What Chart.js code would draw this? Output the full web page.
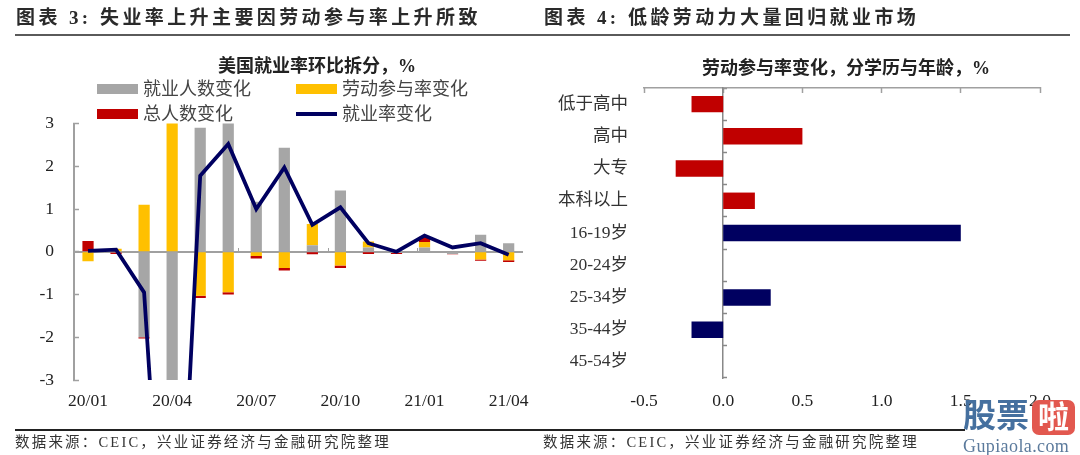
<!DOCTYPE html>
<html>
<head>
<meta charset="utf-8">
<script src="https://cdn.jsdelivr.net/npm/chart.js@4"></script>
<style>
  html, body { margin: 0; padding: 0; background: #fff; }
  body { width: 1080px; height: 455px; position: relative; overflow: hidden; font-family: "Liberation Serif", "Noto Sans CJK SC", serif; color: #222; }
  canvas { position: absolute; top: 0; }
  .abs { position: absolute; white-space: nowrap; line-height: 1; }
  .head { top: 8px; font-size: 19px; font-weight: bold; letter-spacing: 3.4px; color: #2a2a2a; }
  .sub { font-size: 18px; font-weight: bold; color: #222; }
  .foot { top: 435px; font-size: 14.5px; letter-spacing: 2.2px; color: #333; }
  .leg { font-size: 18px; color: #444; }
</style>
</head>
<body>
<canvas id="left" width="540" height="455" style="left:0"></canvas>
<canvas id="right" width="540" height="455" style="left:540px"></canvas>

<div class="abs head" style="left:16px">图表 3:</div>
<div class="abs head" style="left:100px">失业率上升主要因劳动参与率上升所致</div>
<div class="abs head" style="left:544px">图表 4:</div>
<div class="abs head" style="left:628px">低龄劳动力大量回归就业市场</div>
<div class="abs" style="left:15px;width:1055px;top:34px;height:2px;background:#5a5a5a"></div>
<div class="abs sub" style="left:218px;top:57px">美国就业率环比拆分&#xFF0C;%</div>
<div class="abs sub" style="left:702px;top:59px">劳动参与率变化&#xFF0C;分学历与年龄&#xFF0C;%</div>
<div id="legend"></div>
<div class="abs" style="left:15px;width:950px;top:429px;height:1.5px;background:#222"></div>
<div class="abs foot" style="left:15px">数据来源&#xFF1A;CEIC&#xFF0C;兴业证券经济与金融研究院整理</div>
<div class="abs foot" style="left:543px">数据来源&#xFF1A;CEIC&#xFF0C;兴业证券经济与金融研究院整理</div>

<!-- site watermark, sits over the last axis labels -->
<div class="abs" style="left:963px;top:400px;font-size:33px;font-weight:bold;color:#45709f">股票</div>
<div class="abs" style="left:1032px;top:400px;width:43px;height:35px;border-radius:7px;background:#e2584f;color:#fff;font-size:31px;font-weight:bold;text-align:center;line-height:35px">啦</div>
<div class="abs" style="left:963px;top:437px;font-size:18px;letter-spacing:0.4px;color:#5b7a9c">Gupiaola.com</div>

<script>
var months = ['20/01','20/02','20/03','20/04','20/05','20/06','20/07','20/08','20/09','20/10','20/11','20/12','21/01','21/02','21/03','21/04'];
var employed = [0, -0.02, -2.0, -14.0, 2.9, 3.52, 1.17, 2.43, 0.15, 1.43, 0.1, -0.03, 0.1, -0.05, 0.4, 0.2];
var participation = [-0.22, 0.07, 1.1, 3.2, -1.03, -0.95, -0.1, -0.38, 0.5, -0.32, 0.14, 0, 0.13, 0, -0.18, -0.2];
var population = [0.25, -0.03, -0.03, 0, -0.05, -0.05, -0.06, -0.06, -0.06, -0.06, -0.05, -0.02, 0.12, -0.01, -0.03, -0.04];
var rateChange = [0.02, 0.05, -0.95, -11.0, 1.78, 2.52, 1.0, 1.97, 0.63, 1.04, 0.2, 0, 0.38, 0.1, 0.2, -0.07];

var groups = ['低于高中','高中','大专','本科以上','16-19岁','20-24岁','25-34岁','35-44岁','45-54岁'];
var groupChange = [-0.2, 0.5, -0.3, 0.2, 1.5, 0, 0.3, -0.2, 0];

var GREY = '#a6a6a6', YELLOW = '#ffc000', RED = '#c00000', NAVY = '#000060';
var AXIS = '#a0a0a0';
var FONT = '"Liberation Serif", "Noto Sans CJK SC", serif';
var tickFont = { family: FONT, size: 17.5 };

Chart.defaults.animation = false;
Chart.defaults.responsive = false;
Chart.defaults.plugins.legend.display = false;
Chart.defaults.plugins.tooltip.enabled = false;

function fixW(w) { return function (s) { s.width = w; }; }
function fixH(h) { return function (s) { s.height = h; }; }

var leftChart = new Chart(document.getElementById('left').getContext('2d'), {
  data: {
    labels: months,
    datasets: [
      { type: 'bar', label: '就业人数变化', data: employed, backgroundColor: GREY, barPercentage: 0.4, categoryPercentage: 1, order: 1 },
      { type: 'bar', label: '劳动参与率变化', data: participation, backgroundColor: YELLOW, barPercentage: 0.4, categoryPercentage: 1, order: 1 },
      { type: 'bar', label: '总人数变化', data: population, backgroundColor: RED, barPercentage: 0.4, categoryPercentage: 1, order: 1 },
      { type: 'line', label: '就业率变化', data: rateChange, borderColor: NAVY, borderWidth: 3.8, pointRadius: 0, tension: 0, order: 0 }
    ]
  },
  options: {
    layout: { padding: { top: 123.5, right: 13, left: 0, bottom: 0 } },
    scales: {
      x: {
        stacked: true,
        grid: { display: false, drawTicks: false },
        border: { display: false },
        afterFit: fixH(75),
        ticks: {
          font: tickFont, color: '#222', padding: 11, autoSkip: false, maxRotation: 0,
          callback: function (v, i) { return i % 3 === 0 ? months[i] : ''; }
        }
      },
      // axis line through zero, month labels stay at the bottom
      x0: {
        type: 'category',
        position: { y: 0 },
        grid: {
          offset: true, drawOnChartArea: false, tickLength: -5, tickWidth: 1,
          tickColor: function (c) { return c.index % 3 === 0 ? AXIS : 'rgba(0,0,0,0)'; }
        },
        border: { color: AXIS, width: 2 },
        ticks: { display: false, autoSkip: false },
        afterFit: fixH(0)
      },
      y: {
        stacked: true,
        min: -3, max: 3,
        afterFit: fixW(74),
        grid: { drawOnChartArea: false, tickLength: -5, tickColor: AXIS, tickWidth: 1.5 },
        border: { color: AXIS, width: 2 },
        ticks: { stepSize: 1, font: tickFont, color: '#222', padding: 25 }
      }
    }
  }
});

new Chart(document.getElementById('right').getContext('2d'), {
  type: 'bar',
  data: {
    labels: groups,
    datasets: [{
      label: '劳动参与率变化',
      data: groupChange,
      backgroundColor: groupChange.map(function (v, i) { return i < 4 ? RED : NAVY; }),
      barPercentage: 0.51,
      categoryPercentage: 1
    }]
  },
  options: {
    indexAxis: 'y',
    layout: { padding: { top: 88, right: 40, left: 0, bottom: 0 } },
    scales: {
      x: {
        min: -0.5, max: 2,
        grid: { display: false, drawTicks: false },
        border: { display: false },
        afterFit: fixH(77),
        ticks: {
          stepSize: 0.5, font: tickFont, color: '#222', padding: 13, maxRotation: 0,
          callback: function (v) { return v.toFixed(1); }
        }
      },
      xTop: {
        type: 'linear',
        position: 'top',
        min: -0.5, max: 2,
        grid: { drawOnChartArea: false, tickLength: -5, tickColor: AXIS, tickWidth: 1.5 },
        border: { color: AXIS, width: 1.5 },
        ticks: { display: false, stepSize: 0.5 },
        afterFit: fixH(0)
      },
      y: {
        grid: { display: false, drawTicks: false },
        border: { display: false },
        afterFit: fixW(104),
        ticks: { font: tickFont, color: '#333', padding: 16, autoSkip: false }
      },
      yZero: {
        type: 'category',
        position: { x: 0 },
        grid: { offset: true, drawOnChartArea: false, tickLength: -5, tickColor: '#888', tickWidth: 1.5 },
        border: { color: '#888', width: 1.5 },
        ticks: { display: false, autoSkip: false },
        afterFit: fixW(0)
      }
    }
  }
});

// two column legend, aligned the way the original has it
var legendEl = document.getElementById('legend');
leftChart.data.datasets.forEach(function (ds, i) {
  var col = i % 2 ? 296 : 97, row = i < 2 ? 89 : 114;
  var isLine = ds.type === 'line';
  var swatch = document.createElement('div');
  swatch.className = 'abs';
  swatch.style.cssText = 'left:' + col + 'px;width:41px;top:' + (row - (isLine ? 2 : 5)) + 'px;height:' + (isLine ? 4 : 10) + 'px;background:' + (isLine ? ds.borderColor : ds.backgroundColor);
  var text = document.createElement('div');
  text.className = 'abs leg';
  text.style.cssText = 'left:' + (col + 46) + 'px;top:' + (row - 9) + 'px';
  text.textContent = ds.label;
  legendEl.appendChild(swatch);
  legendEl.appendChild(text);
});
</script>
</body>
</html>
